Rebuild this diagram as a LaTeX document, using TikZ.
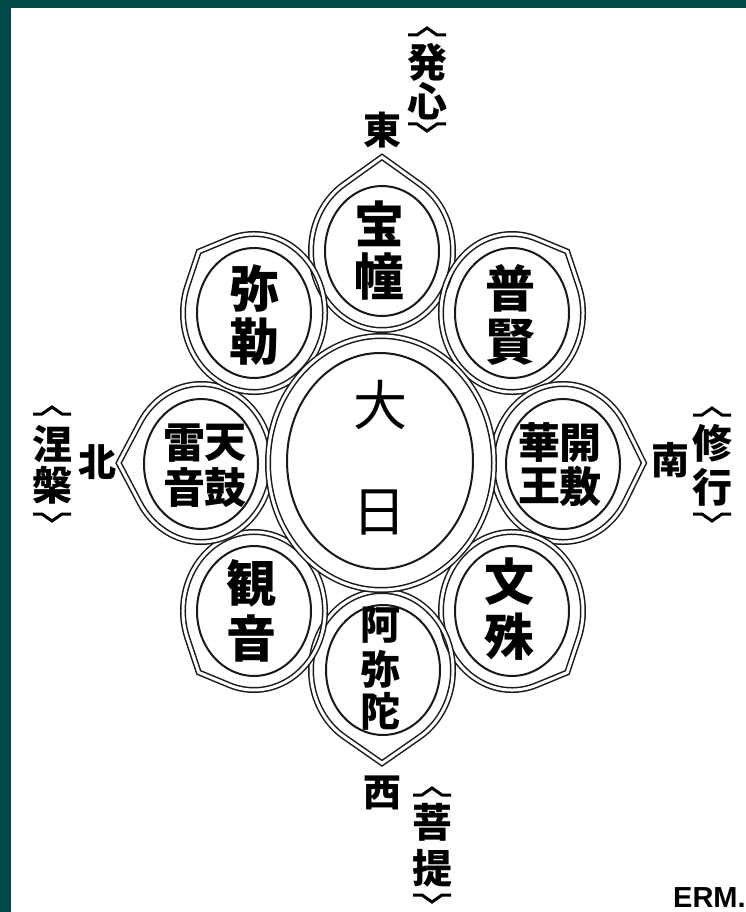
\documentclass[tikz,border=0pt]{standalone}
\usepackage{fontspec}
\newfontfamily\jp{Noto Sans CJK JP}
\setsansfont{Liberation Sans}
\definecolor{edgeteal}{RGB}{0,73,73}
\tikzset{
 petalline/.style={draw=black!90, line width=1.5pt, double=white, double distance=3pt},
 ellline/.style={draw=black!90, line width=2pt},
 brk/.style={draw=black, line width=3pt, line join=miter},
 kj/.style={inner sep=0pt, font=\jp\bfseries\fontsize{#1}{#1}\selectfont},
 kj/.default=48,
 kjr/.style={inner sep=0pt, font=\jp\fontsize{#1}{#1}\selectfont},
 kjr/.default=52
}
\newcommand\mpetal[4]{%
 \begin{scope}[shift={(#1,#2)}, xscale=71, yscale=79]
 \pgfmathsetmacro\mal{acos(1/#4)}
 \draw[petalline] (#3:#4) -- ({#3+\mal}:1) arc[start angle={#3+\mal}, end angle={#3+360-\mal}, radius=1] -- cycle;
 \end{scope}}
\newcommand\topbr[2]{%
 \draw[brk] (#1-19,#2+4) -- (#1-10,#2+4) -- (#1,#2-3) -- (#1+10,#2+4) -- (#1+19,#2+4);}
\newcommand\botbr[2]{%
 \draw[brk] (#1-19,#2-4) -- (#1-10,#2-4) -- (#1,#2+3) -- (#1+10,#2-4) -- (#1+19,#2-4);}
\begin{document}
\begin{tikzpicture}[x=1pt,y=-1pt]
\useasboundingbox (0,0) rectangle (746,912);
\fill[white] (0,0) rectangle (746,912);
\fill[edgeteal] (0,0) rectangle (746,8);
\fill[edgeteal] (0,0) rectangle (11,912);
% petal outlines
\mpetal{382}{251}{270}{1.19}
\mpetal{512}{313}{315}{1.1}
\mpetal{563}{463}{0}{1.14}
\mpetal{512}{611}{45}{1.1}
\mpetal{382}{670}{90}{1.18}
\mpetal{254}{611}{135}{1.1}
\mpetal{201}{463}{180}{1.16}
\mpetal{254}{313}{225}{1.1}
% centre ring and disc
\draw[petalline, fill=white] (381,463) ellipse [x radius=113, y radius=127];
\draw[ellline] (380,461) ellipse [x radius=93, y radius=108];
% inner ellipses of the petals
\foreach \cx/\cy in {382/251, 512/313, 563/464, 512/611, 383/670, 254/611, 201/464, 254/313}
  \draw[ellline] (\cx,\cy) ellipse [x radius=57, y radius=65];
% centre text
\node[kjr=54] (dai) at (380,405) {大};
\node[kjr=54] (nichi) at (379,513) {日};
% petal texts
\node[kj=50] (hou) at (379,224) {宝};
\node[kj=50] (dou) at (379,276) {幢};
\node[kj=50] (mi1) at (254,288) {弥};
\node[kj=50] (roku) at (254,342) {勒};
\node[kj=50] (fu) at (510,288) {普};
\node[kj=50] (gen) at (510,342) {賢};
\node[kj=42] (rai) at (184,443) {雷};
\node[kj=42] (ten) at (225,443) {天};
\node[kj=42] (on1) at (184,488) {音};
\node[kj=42] (ku) at (225,488) {鼓};
\node[kj=42] (ke) at (539,443) {華};
\node[kj=42] (kai) at (580,443) {開};
\node[kj=42] (ou) at (539,486) {王};
\node[kj=42] (fu2) at (580,486) {敷};
\node[kj=50] (kan) at (251,583) {観};
\node[kj=50] (on2) at (251,638) {音};
\node[kj=50] (mon) at (509,582) {文};
\node[kj=50] (ju) at (509,637) {殊};
\node[kj=40] (a) at (380,625) {阿};
\node[kj=40] (mi2) at (380,669) {弥};
\node[kj=40] (da) at (380,711) {陀};
% directions
\node[kj=38] (higashi) at (382,130) {東};
\node[kj=38] (nishi) at (382,793) {西};
\node[kj=38] (kita) at (97,462) {北};
\node[kj=38] (minami) at (670,460) {南};
% stages with brackets
\node[kj=40] (ho) at (427,62) {発};
\node[kj=40] (shin) at (427,101) {心};
\topbr{427}{31}
\botbr{427}{128}
\node[kj=40] (ne) at (52,444) {涅};
\node[kj=40] (han) at (52,485) {槃};
\topbr{52}{410}
\botbr{52}{518}
\node[kj=40] (shu) at (712,443) {修};
\node[kj=40] (gyo) at (712,487) {行};
\topbr{712}{411}
\botbr{712}{518}
\node[kj=40] (bo) at (432,822) {菩};
\node[kj=40] (dai2) at (432,868) {提};
\topbr{432}{791}
\botbr{432}{899}
% signature
\node[anchor=north west, inner sep=0pt, font=\sffamily\bfseries\fontsize{29}{29}\selectfont] (erm) at (673,887) {ERM.};
\end{tikzpicture}
\end{document}
